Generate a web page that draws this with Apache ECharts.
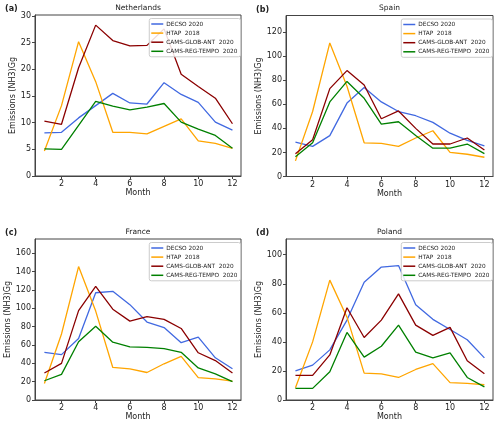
<!DOCTYPE html>
<html><head><meta charset="utf-8">
<script src="https://cdn.jsdelivr.net/npm/echarts@6/dist/echarts.min.js"></script>
<style>html,body{margin:0;padding:0;background:#fff}#c{width:500px;height:426px}</style>
</head><body><div id="c"></div>
<script>
const months = [1,2,3,4,5,6,7,8,9,10,11,12];
const seriesNames = ['DECSO 2020','HTAP  2018','CAMS-GLOB-ANT  2020','CAMS-REG-TEMPO  2020'];
const seriesColors = ['#4169e1','#ffa500','#8b0000','#008000'];
const xTicks = [2,4,6,8,10,12];

// Netherlands
const nlDecso = [8.1,8.2,10.9,13.2,15.5,13.7,13.5,17.5,15.3,13.8,10.1,8.6];
const nlHtap  = [4.7,13.2,25.2,17.7,8.2,8.2,7.9,9.3,10.7,6.6,6.1,5.2];
const nlGlob  = [10.3,9.7,20.3,28.3,25.4,24.4,24.5,27.6,19.1,16.8,14.6,9.8];
const nlReg   = [5.1,5.0,9.5,14.0,13.1,12.4,12.9,13.6,10.1,8.8,7.6,5.2];
const nlTicks = [0,5,10,15,20,25,30];
// Spain
const esDecso = [28.5,25,34,61,74,62,54,50.5,45,36,30,25.5];
const esHtap  = [13,54,111,75,28,27.5,25,32,38,20,18.5,16];
const esGlob  = [19,30.5,73,88,76,48,54.5,40,27,27,32,22];
const esReg   = [16.5,28,62,79,65,43.5,45.5,34,23.5,23.5,27,19];
const esTicks = [0,20,40,60,80,100,120];
// France
const frDecso = [52,49.5,67,117,118.5,104,85,79,62.5,68.5,46,34];
const frHtap  = [18,72,145.5,97,35.5,34,30,39.5,47.5,24.5,23,20.5];
const frGlob  = [29.5,40,97.5,124,99,86,91,88,78,51.5,43,29.5];
const frReg   = [21,28,63.5,80.5,63,58,57.5,56,52,35,28.5,20];
const frTicks = [0,20,40,60,80,100,120,140,160];
// Poland
const plDecso = [20,24,34.5,55,81,91.5,92.5,65.5,55.5,48.5,41.5,29];
const plHtap  = [8.5,40,82.5,57,18.5,18,15.5,21,25,12,11.5,10.5];
const plGlob  = [17,17,31,63.5,43,55,73,51.5,44.5,50,27,18];
const plReg   = [8,8,19.5,46.5,29.5,37,51.5,33,29,32.5,15.5,9];
const plTicks = [0,20,40,60,80,100];

const panels = [
  {title:'Netherlands', tag:'(a)', data:[nlDecso,nlHtap,nlGlob,nlReg], ticks:nlTicks, ymax:30.2,
   grid:{left:35,top:15,width:206,height:161}, nameGap:18},
  {title:'Spain', tag:'(b)', data:[esDecso,esHtap,esGlob,esReg], ticks:esTicks, ymax:133.8,
   grid:{left:286,top:15.5,width:207,height:161}, nameGap:23},
  {title:'France', tag:'(c)', data:[frDecso,frHtap,frGlob,frReg], ticks:frTicks, ymax:175.6,
   grid:{left:35,top:239,width:206,height:161}, nameGap:22},
  {title:'Poland', tag:'(d)', data:[plDecso,plHtap,plGlob,plReg], ticks:plTicks, ymax:110.8,
   grid:{left:286,top:239,width:207,height:161}, nameGap:22}
];

const FONT = 'DejaVu Sans';
const grids=[], xAxes=[], yAxes=[], series=[], legends=[], graphics=[];
panels.forEach((p,i)=>{
  grids.push(Object.assign({show:true, borderColor:'#444', borderWidth:1, backgroundColor:'transparent'}, p.grid));
  xAxes.push({type:'value', gridIndex:i, min:0.45, max:12.5,
    name:'Month', nameLocation:'middle', nameGap:13,
    nameTextStyle:{fontFamily:FONT, fontSize:8, color:'#222'},
    axisLine:{show:true, lineStyle:{color:'#444'}},
    axisTick:{show:true, length:3, customValues:xTicks, lineStyle:{color:'#444'}},
    axisLabel:{customValues:xTicks, fontFamily:FONT, fontSize:8, color:'#222', margin:4},
    splitLine:{show:false}});
  yAxes.push({type:'value', gridIndex:i, min:0, max:p.ymax,
    name:'Emissions (NH3)Gg', nameLocation:'middle', nameGap:p.nameGap,
    nameTextStyle:{fontFamily:FONT, fontSize:8, color:'#222'},
    axisLine:{show:true, lineStyle:{color:'#444'}},
    axisTick:{show:true, length:3, customValues:p.ticks, lineStyle:{color:'#444'}},
    axisLabel:{customValues:p.ticks, fontFamily:FONT, fontSize:8, color:'#222', margin:4},
    splitLine:{show:false}});
  p.data.forEach((vals,k)=>{
    series.push({type:'line', name:seriesNames[k], xAxisIndex:i, yAxisIndex:i,
      data: months.map((m,j)=>[m, vals[j]]), symbol:'none', showSymbol:false,
      lineStyle:{color:seriesColors[k], width:1.3}, itemStyle:{color:seriesColors[k]},
      animation:false, silent:true});
  });
  const g = p.grid;
  legends.push({orient:'vertical', right: 500 - (g.left + g.width) + 0.5, top: g.top + 3.5,
    data: seriesNames, icon:'rect', itemWidth:12, itemHeight:1.5, itemGap:2.1,
    padding:[2,3,2,2], backgroundColor:'rgba(255,255,255,0.85)', borderColor:'#ccc', borderWidth:1, borderRadius:2,
    textStyle:{fontFamily:FONT, fontSize:5.8, color:'#222', lineHeight:7, padding:[0,0,0,-2]}});
  graphics.push({type:'text', x: g.left + g.width/2, y: g.top - 7, style:{text:p.title, align:'center', verticalAlign:'middle', font:'7.5px "DejaVu Sans"', fill:'#222'}});
  graphics.push({type:'text', x: g.left - 30, y: g.top - 6, style:{text:p.tag, align:'left', verticalAlign:'middle', font:'bold 8px "DejaVu Sans"', fill:'#222'}});
});

const chart = echarts.init(document.getElementById('c'), null, {renderer:'canvas'});
chart.setOption({animation:false, grid:grids, xAxis:xAxes, yAxis:yAxes, series:series, legend:legends, graphic:graphics});
</script></body></html>
